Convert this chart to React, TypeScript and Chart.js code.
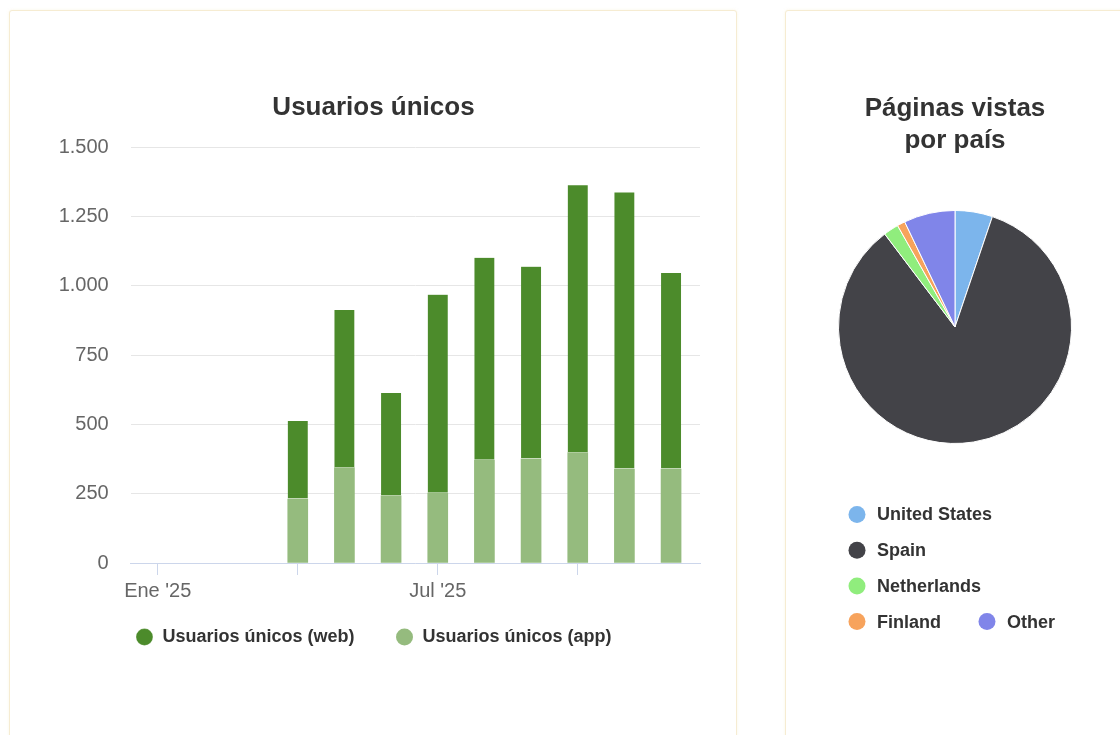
import React, { useEffect, useRef } from "react";
import { Chart, registerables } from "chart.js";

Chart.register(...registerables);
Chart.defaults.font.family = "'Liberation Sans', Arial, Helvetica, sans-serif";

// ---- Bar chart data ----
const months = ["Ene '25", "Feb '25", "Mar '25", "Abr '25", "May '25", "Jun '25", "Jul '25", "Ago '25", "Sep '25", "Oct '25", "Nov '25", "Dic '25"];
const xTickLabels = ["Ene '25", "", "", "", "", "", "Jul '25", "", "", "", "", ""];
const xTickMarks = [0, 3, 6, 9];
const appUsers = [null, null, null, 231, 344, 242, 252, 371, 376, 398, 339, 339];
const webUsers = [null, null, null, 281, 569, 371, 716, 730, 693, 965, 998, 707];
const yTicks = [0, 250, 500, 750, 1000, 1250, 1500];

// ---- Pie chart data ----
const countries = ["United States", "Spain", "Netherlands", "Finland", "Other"];
const countryShares = [5.2, 84.5, 2.1, 1.1, 7.1];
const countryColors = ["#7cb5ec", "#434348", "#90ed7d", "#f7a35c", "#8085e9"];

const fmt = (v: number) => String(v).replace(/\B(?=(\d{3})+(?!\d))/g, ".");

// moves the bar legend a little closer to the axis labels
const legendShiftPlugin = {
  id: "legendShift",
  afterLayout(chart: any) {
    const l = chart.legend;
    if (l) {
      l.top -= 20;
      l.bottom -= 20;
    }
  },
};

const pieLegendPlugin = {
  id: "pieLegend",
  afterDraw(chart: any) {
    const ctx = chart.ctx;
    const area = chart.chartArea;
    const labels: string[] = chart.data.labels;
    const colors: string[] = chart.data.datasets[0].backgroundColor;
    const cx = (area.left + area.right) / 2;
    const startX = cx - 106;
    const maxRight = startX + 225;
    let x = startX;
    let y = area.bottom + 70.5;
    ctx.save();
    ctx.font = "bold 18px 'Liberation Sans', Arial, sans-serif";
    ctx.textBaseline = "middle";
    ctx.textAlign = "left";
    labels.forEach((lab, i) => {
      const w = 28 + ctx.measureText(lab).width;
      if (x > startX && x + w > maxRight) {
        x = startX;
        y += 35.7;
      }
      ctx.fillStyle = colors[i];
      ctx.beginPath();
      ctx.arc(x + 8, y, 8.5, 0, Math.PI * 2);
      ctx.fill();
      ctx.fillStyle = "#333333";
      ctx.fillText(lab, x + 28, y + 1);
      x += w + 38;
    });
    ctx.restore();
  },
};

const panelStyle: React.CSSProperties = {
  position: "absolute",
  background: "#ffffff",
  border: "1px solid #f6ecd2",
  borderRadius: 3,
  boxSizing: "border-box",
  boxShadow: "0 0 3px rgba(240,225,180,0.35)",
};

export default function App() {
  const barRef = useRef<HTMLCanvasElement>(null);
  const pieRef = useRef<HTMLCanvasElement>(null);

  useEffect(() => {
    const appPoints = months.map((_m, i) => ({ x: i, y: appUsers[i] }));
    const webPoints = months.map((_m, i) => ({ x: i, y: webUsers[i] }));

    const bar = new Chart(barRef.current!, {
      type: "bar",
      data: {
        datasets: [
          {
            label: "Usuarios únicos (app)",
            data: appPoints,
            backgroundColor: "#95bb7e",
            barThickness: 20,
            stack: "s",
          },
          {
            label: "Usuarios únicos (web)",
            data: webPoints,
            backgroundColor: "#4c8b2b",
            borderColor: "#ffffff",
            borderWidth: { top: 0, left: 0, right: 0, bottom: 1 },
            borderSkipped: false,
            barThickness: 20,
            stack: "s",
          },
        ],
      },
      options: {
        responsive: false,
        animation: false,
        layout: { padding: { left: 37, right: 36, top: 0, bottom: 73 } },
        plugins: {
          tooltip: { enabled: false },
          title: {
            display: true,
            text: "Usuarios únicos",
            color: "#333333",
            font: { size: 26, weight: "bold", lineHeight: 1.2 },
            padding: { top: 81, bottom: 24 },
          },
          legend: {
            position: "bottom",
            reverse: true,
            labels: {
              usePointStyle: true,
              pointStyle: "circle",
              boxWidth: 18,
              boxHeight: 12,
              padding: 41,
              color: "#333333",
              font: { size: 18, weight: "bold" },
            },
          },
        },
        scales: {
          x: {
            type: "linear",
            stacked: true,
            offset: false,
            min: -0.58,
            max: 11.62,
            afterBuildTicks: (s: any) => {
              s.ticks = xTickMarks.map((v) => ({ value: v }));
            },
            border: { display: true, color: "#ccd6eb", width: 1 },
            grid: {
              offset: false,
              drawOnChartArea: false,
              drawTicks: true,
              tickLength: 12,
              color: "#ccd6eb",
            },
            ticks: {
              autoSkip: false,
              maxRotation: 0,
              padding: 4,
              color: "#666666",
              font: { size: 20 },
              callback: (v: any) => xTickLabels[v] ?? "",
            },
          },
          y: {
            stacked: true,
            min: yTicks[0],
            max: yTicks[yTicks.length - 1],
            afterFit: (s: any) => {
              s.width = 83.7;
            },
            border: { display: false },
            grid: { color: "#e6e6e6", drawTicks: false },
            ticks: {
              stepSize: yTicks[1] - yTicks[0],
              padding: 22,
              color: "#666666",
              font: { size: 20 },
              callback: (v: any) => fmt(v),
            },
          },
        },
      },
      plugins: [legendShiftPlugin],
    } as any);

    const pie = new Chart(pieRef.current!, {
      type: "pie",
      data: {
        labels: countries,
        datasets: [
          {
            data: countryShares,
            backgroundColor: countryColors,
            borderColor: "#ffffff",
            borderWidth: 1,
          },
        ],
      },
      options: {
        responsive: false,
        animation: false,
        layout: { padding: { top: 0, bottom: 305, left: 0, right: 0 } },
        plugins: {
          tooltip: { enabled: false },
          legend: { display: false },
          title: {
            display: true,
            text: ["Páginas vistas", "por país"],
            color: "#333333",
            font: { size: 26, weight: "bold", lineHeight: 1.23 },
            padding: { top: 81.5, bottom: 53.5 },
          },
        },
      },
      plugins: [pieLegendPlugin],
    } as any);

    return () => {
      bar.destroy();
      pie.destroy();
    };
  }, []);

  return (
    <div style={{ position: "fixed", inset: 0, overflow: "hidden", background: "#ffffff" }}>
      <div style={{ ...panelStyle, left: 9, top: 10, width: 728, height: 740 }}>
        <canvas ref={barRef} width={726} height={738} style={{ display: "block" }} />
      </div>
      <div style={{ ...panelStyle, left: 785, top: 10, width: 340, height: 740 }}>
        <canvas ref={pieRef} width={338} height={738} style={{ display: "block" }} />
      </div>
    </div>
  );
}
